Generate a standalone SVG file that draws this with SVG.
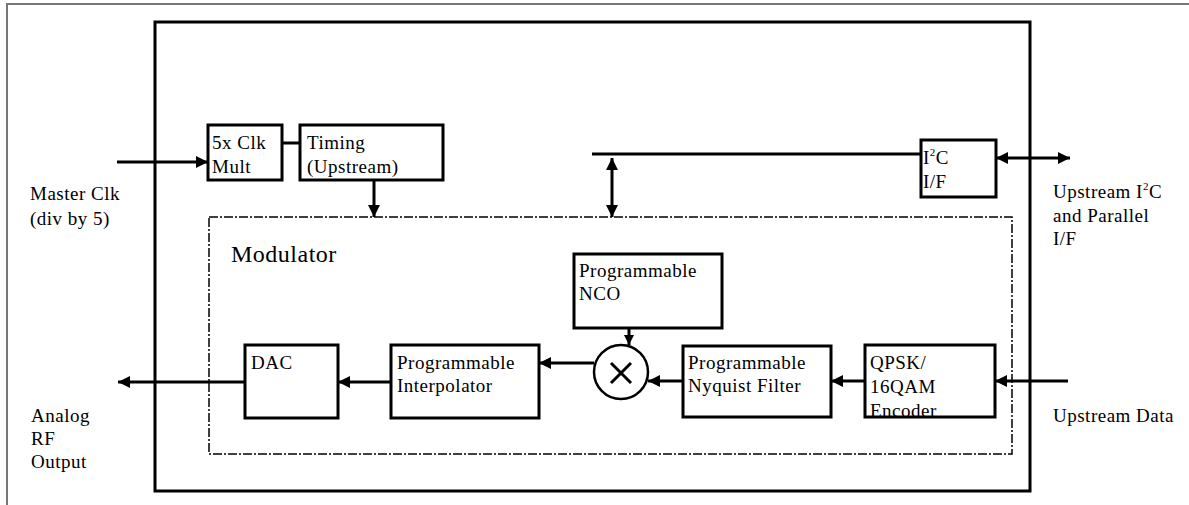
<svg xmlns="http://www.w3.org/2000/svg" width="1189" height="505" viewBox="0 0 1189 505">
<style>
.t{font-family:"Liberation Serif","Times New Roman",serif;font-size:19px;letter-spacing:0.5px;fill:#000}
.b{fill:#fff;stroke:#000;stroke-width:3}
.c{fill:none;stroke:#000;stroke-width:3}
.d{fill:none;stroke:#000;stroke-width:1.5;stroke-dasharray:9 2 2 2}
</style>
<defs>
<marker id="a" markerUnits="userSpaceOnUse" markerWidth="12" markerHeight="12" viewBox="0 0 12 12" refX="12" refY="6" orient="auto-start-reverse"><path d="M0,0 L12,6 L0,12 Z" fill="#000"/></marker>
<marker id="s" markerUnits="userSpaceOnUse" markerWidth="10" markerHeight="10" viewBox="0 0 10 10" refX="10" refY="5" orient="auto"><path d="M0,0 L10,5 L0,10 Z" fill="#000"/></marker>
</defs>
<rect width="1189" height="505" fill="#fff"/>
<path d="M7,505 V4 H1189" fill="none" stroke="#777" stroke-width="2"/>
<g id="chip"><rect x="155" y="22" width="875" height="469" class="c"/></g>
<g id="modulator"><rect x="209" y="217" width="803" height="237" class="d"/><text x="231" y="262" class="t" style="font-size:24px">Modulator</text></g>
<g id="connectors">
<path d="M117,162 H208" class="c" marker-end="url(#a)"/>
<path d="M282,143 H300" class="c"/>
<path d="M374,180 V217" class="c" marker-end="url(#a)"/>
<path d="M592,154 H921" class="c"/>
<path d="M612,158 V217" class="c" marker-start="url(#a)" marker-end="url(#a)"/>
<path d="M996,158 H1070" class="c" marker-start="url(#a)" marker-end="url(#a)"/>
<path d="M245,382 H118" class="c" marker-end="url(#a)"/>
<path d="M391,382 H338" class="c" marker-end="url(#a)"/>
<path d="M594,363 H539" class="c" marker-end="url(#a)"/>
<path d="M629,328 V345" class="c" marker-end="url(#s)"/>
<path d="M683,381 H648" class="c" marker-end="url(#a)"/>
<path d="M865,381 H831" class="c" marker-end="url(#a)"/>
<path d="M1068,381 H995" class="c" marker-end="url(#a)"/>
</g>
<g id="clkmult"><rect x="208" y="125" width="74" height="55" class="b"/><text x="212" y="149" class="t">5x Clk</text><text x="212" y="173" class="t">Mult</text></g>
<g id="timing"><rect x="300" y="125" width="143" height="55" class="b"/><text x="307" y="149" class="t">Timing</text><text x="307" y="173" class="t">(Upstream)</text></g>
<g id="i2c"><rect x="921" y="140" width="75" height="57" class="b"/><text x="923" y="164" class="t">I<tspan dy="-8" style="font-size:11px">2</tspan><tspan dy="8">C</tspan></text><text x="923" y="188" class="t">I/F</text></g>
<g id="nco"><rect x="574" y="254" width="148" height="74" class="b"/><text x="579" y="277" class="t">Programmable</text><text x="579" y="300" class="t">NCO</text></g>
<g id="mixer"><circle cx="621" cy="372" r="27" fill="#fff" stroke="#000" stroke-width="2.5"/><path d="M611,363 L631,383 M631,363 L611,383" fill="none" stroke="#000" stroke-width="3"/></g>
<g id="dac"><rect x="245" y="345" width="93" height="73" class="b"/><text x="251" y="369" class="t">DAC</text></g>
<g id="interp"><rect x="391" y="345" width="148" height="73" class="b"/><text x="397" y="369" class="t">Programmable</text><text x="397" y="392" class="t">Interpolator</text></g>
<g id="nyquist"><rect x="683" y="346" width="148" height="71" class="b"/><text x="688" y="369" class="t">Programmable</text><text x="688" y="392" class="t">Nyquist Filter</text></g>
<g id="encoder"><rect x="865" y="345" width="130" height="72" class="b"/><text x="870" y="369" class="t">QPSK/</text><text x="870" y="393" class="t">16QAM</text><text x="870" y="417" class="t">Encoder</text></g>
<g id="labels">
<text x="30" y="200" class="t">Master Clk</text><text x="30" y="225" class="t">(div by 5)</text>
<text x="31" y="422" class="t">Analog</text><text x="31" y="445" class="t">RF</text><text x="31" y="468" class="t">Output</text>
<text x="1053" y="198" class="t">Upstream I<tspan dy="-8" style="font-size:11px">2</tspan><tspan dy="8">C</tspan></text><text x="1053" y="222" class="t">and Parallel</text><text x="1053" y="245" class="t">I/F</text>
<text x="1053" y="422" class="t">Upstream Data</text>
</g>
</svg>
